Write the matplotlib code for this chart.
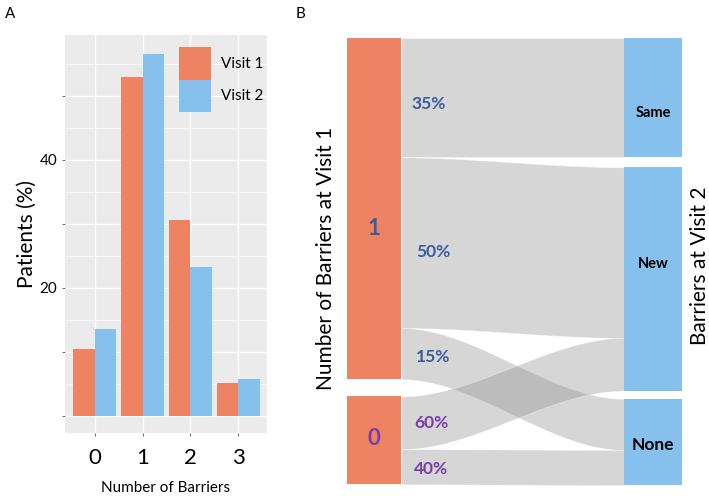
import numpy as np
import matplotlib.pyplot as plt
from matplotlib.patches import Rectangle

plt.rcParams['font.family'] = ['Lato', 'DejaVu Sans']

# Panel A data: percent of patients by number of barriers
barriers = ['0', '1', '2', '3']
visit1 = [10.5, 52.9, 30.6, 5.2]
visit2 = [13.6, 56.6, 23.3, 5.8]

# Panel B data: flows from visit-1 barrier count to visit-2 status
left_nodes = ['1', '0']
left_share = [79.5, 20.5]           # % of patients at visit 1
right_nodes = ['Same', 'New', 'None']
flow_src = ['1', '1', '1', '0', '0']
flow_dst = ['Same', 'New', 'None', 'New', 'None']
flow_pct = [35, 50, 15, 60, 40]     # % of the source node

orange = '#EE8363'
blue = '#85C1EC'
txt_blue = '#3B5B9E'
txt_purple = '#7B3CA8'

fig = plt.figure(figsize=(7.09, 5.0), dpi=100)
W, H = 709, 500


def px_axes(x0, y0, x1, y1):
    return fig.add_axes([x0 / W, 1 - y1 / H, (x1 - x0) / W, (y1 - y0) / H])


# ---------------- Panel A ----------------
ax = px_axes(65, 35, 267, 433)
ax.set_facecolor('#EBEBEB')
x = np.arange(len(barriers))
bw = 0.45
ax.bar(x - bw / 2, visit1, width=bw, color=orange, label='Visit 1', zorder=3)
ax.bar(x + bw / 2, visit2, width=bw, color=blue, label='Visit 2', zorder=3)
ax.set_xlim(-0.62, 3.6)
ax.set_ylim(-2.66, 59.5)
ax.set_yticks([0, 10, 20, 30, 40, 50])
ax.set_yticklabels(['', '', '20', '', '40', ''], fontsize=11)
ax.set_yticks(np.arange(5, 60, 10), minor=True)
ax.set_xticks(x)
ax.set_xticklabels(barriers, fontsize=16)
ax.grid(which='major', color='white', linewidth=1.0, zorder=0)
ax.grid(which='minor', axis='y', color='white', linewidth=0.5, zorder=0)
ax.tick_params(which='major', length=2.5, color='#555555', width=0.6, pad=3)
ax.tick_params(axis='x', pad=8)
ax.tick_params(which='minor', length=0)
for s in ax.spines.values():
    s.set_visible(False)
ax.set_ylabel('Patients (%)', fontsize=15, labelpad=2)
ax.set_xlabel('Number of Barriers', fontsize=11, labelpad=10)
leg = ax.legend(loc='upper right', frameon=False, fontsize=11, handlelength=2.1,
                handleheight=2.9, labelspacing=0.0, borderaxespad=0.0,
                handletextpad=0.6, bbox_to_anchor=(1.01, 0.985))
fig.text(5 / W, 1 - 18 / H, 'A', fontsize=11)

# ---------------- Panel B ----------------
bx = px_axes(347, 38, 682, 486)
bx.set_xlim(0, 1)
bx.set_ylim(104.4, 0)
bx.axis('off')
upx = 104.4 / 448   # data units per pixel

lw_ = 54 / 335     # left node width (axes fraction)
rw_ = 58 / 335     # right node width
gap_left = 4.0
gap_right = [2.3, 1.9]

# left node positions
left_pos = {}
y = 0.0
for name, v in zip(left_nodes, left_share):
    left_pos[name] = (y, y + v)
    y += v + gap_left

# flow sizes in absolute units
sizes = [left_share[left_nodes.index(s)] * p / 100 for s, p in zip(flow_src, flow_pct)]
right_share = [sum(sz for d, sz in zip(flow_dst, sizes) if d == r) for r in right_nodes]
right_pos = {}
y = 0.0
for i, (name, v) in enumerate(zip(right_nodes, right_share)):
    right_pos[name] = (y, y + v)
    if i < len(gap_right):
        y += v + gap_right[i]

# draw ribbons
lcur = {k: v[0] for k, v in left_pos.items()}
rcur = {k: v[0] for k, v in right_pos.items()}
t = np.linspace(0, 1, 120)
sm = 3 * t ** 2 - 2 * t ** 3
xs = lw_ + (1 - rw_ - lw_) * t
ribbons = []
for s, d, sz in zip(flow_src, flow_dst, sizes):
    ly0 = lcur[s]
    ry0 = rcur[d]
    lcur[s] += sz
    rcur[d] += sz
    top = ly0 + (ry0 - ly0) * sm
    bot = top + sz
    bx.fill_between(xs, top, bot, color='#8C8C8C', alpha=0.35, linewidth=0.6,
                    edgecolor='white', zorder=1)
    ribbons.append((s, ly0, sz))

# draw nodes
for name in left_nodes:
    y0, y1 = left_pos[name]
    bx.add_patch(Rectangle((0, y0), lw_, y1 - y0, color=orange, zorder=3, linewidth=0))
for name in right_nodes:
    y0, y1 = right_pos[name]
    bx.add_patch(Rectangle((1 - rw_, y0), rw_, y1 - y0, color=blue, zorder=3, linewidth=0))

# node labels (pixel nudges as in the original layout)
node_col = {'1': txt_blue, '0': txt_purple}
left_nudge = {'1': 20, '0': -2}
for name in left_nodes:
    y0, y1 = left_pos[name]
    bx.text(lw_ / 2, (y0 + y1) / 2 + left_nudge[name] * upx, name, color=node_col[name],
            fontsize=16, fontweight='bold', ha='center', va='center', zorder=4)
rsize = {'Same': 10.5, 'New': 10.5, 'None': 12.5}
right_nudge = {'Same': 15, 'New': -15, 'None': 3}
for name in right_nodes:
    y0, y1 = right_pos[name]
    bx.text(1 - rw_ / 2, (y0 + y1) / 2 + right_nudge[name] * upx, name, color='black',
            fontsize=rsize[name], fontweight='bold', ha='center', va='center', zorder=4)

# flow percentage labels
pct_nudge = [6, 9, 3, 0, 2]
pct_dx = [0.03, 0.045, 0.045, 0.04, 0.04]
for (s, ly0, sz), p, dy, dx in zip(ribbons, flow_pct, pct_nudge, pct_dx):
    bx.text(lw_ + dx, ly0 + sz / 2 + dy * upx, f'{p}%', color=node_col[s], fontsize=12.5,
            fontweight='bold', ha='left', va='center', zorder=4)

fig.text(326 / W, 1 - 258 / H, 'Number of Barriers at Visit 1', rotation=90,
         fontsize=15, ha='center', va='center')
fig.text(700 / W, 1 - 266 / H, 'Barriers at Visit 2', rotation=90,
         fontsize=15, ha='center', va='center')
fig.text(296 / W, 1 - 18 / H, 'B', fontsize=11)

fig.savefig('out.png', dpi=100)
